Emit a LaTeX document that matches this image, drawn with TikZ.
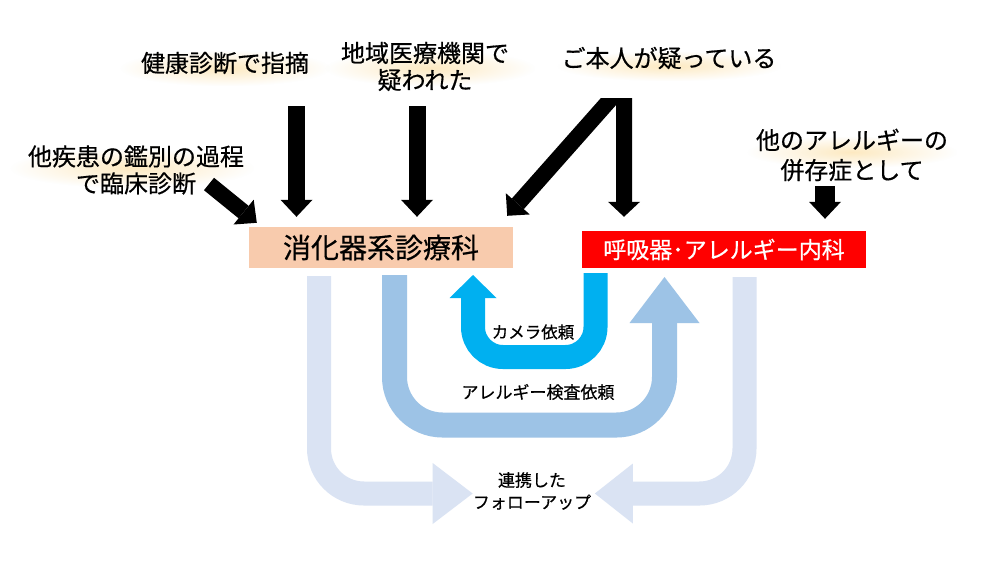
\documentclass[tikz,border=0pt]{standalone}
\usepackage{fontspec}
\setmainfont{Noto Sans CJK JP}[FakeBold=0.5]
\usetikzlibrary{arrows.meta,fadings}
\definecolor{peach}{RGB}{248,203,173}
\definecolor{glowc}{RGB}{252,222,160}
\definecolor{paleblue}{RGB}{218,227,243}
\definecolor{midblue}{RGB}{157,195,230}
\definecolor{skyblue}{RGB}{0,176,240}
\tikzfading[name=glowfade, inner color=transparent!35, outer color=transparent!100]
\begin{document}
\begin{tikzpicture}[x=1pt, y=-1pt,
  lbl/.style={align=center, inner sep=0pt, font=\fontsize{24}{27}\selectfont},
  sub/.style={align=center, inner sep=0pt, font=\fontsize{17}{22}\selectfont},
  dept/.style={inner sep=0pt},
  glow/.style={fill=glowc, path fading=glowfade},
  blk/.style={line width=17pt, -{Triangle[width=32pt,length=17pt,line width=0pt]}},
  uarr/.style={rounded corners=45pt}
] % {{{
\fill[white] (0,0) rectangle (1000,563);
\useasboundingbox (0,0) rectangle (1000,563);
% glow behind the texts {{{
\foreach \cx/\cy/\rx/\ry in {225/68/105/18, 430/68/105/18, 669/66/112/15, 132/168/122/20, 852/152/105/16} {
  \fill[glow] (\cx-\rx,\cy-\ry) rectangle (\cx+\rx,\cy+\ry);
}
% }}}
% Texts {{{
\node[lbl] (kenshin) at (225,63) {健康診断で指摘};
\node[lbl] (chiiki) at (425,66.5) {地域医療機関で\\疑われた};
\node[lbl] (honnin) at (669,58) {ご本人が疑っている};
\node[lbl] (kanbetsu) at (136,170) {他疾患の鑑別の過程\\で臨床診断};
\node[lbl, font=\fontsize{24}{30}\selectfont] (heizon) at (852,155) {他のアレルギーの\\併存症として};
% }}}
% Departments {{{
\node[dept, fill=peach, minimum width=264, minimum height=41, font=\fontsize{28}{28}\selectfont] (gastro) at (381,247.5) {消化器系診療科};
\node[dept, fill=red, text=white, minimum width=284, minimum height=37, font=\fontsize{23}{23}\selectfont] (resp) at (724,249.5) {呼吸器･アレルギー内科};
% }}}
% Black arrows {{{
\coordinate (k1) at (296.5,106);
\coordinate (c1) at (417,106);
\coordinate (t1) at (209,184);
\coordinate (h1) at (825,186);
\coordinate (apex) at (624,84);
\draw[blk, shorten >=10pt] (k1) -- (k1 |- gastro.north);
\draw[blk, shorten >=10pt] (c1) -- (c1 |- gastro.north);
\draw[blk, line width=16pt] (t1) -- ([shift={(8,-4)}]gastro.north west);
\draw[blk, line width=20pt, shorten >=12pt] (h1) -- (h1 |- resp.north);
\begin{scope}
  \clip (0,98) rectangle (1000,563);
  \draw[blk, line width=16pt, line join=miter,
    {Triangle[width=32pt,length=16pt,line width=0pt]}-{Triangle[width=32pt,length=15pt,line width=0pt]}]
    ([shift={(-6,-11)}]gastro.north east) -- (apex) -- ([shift={(0,-14)}]apex |- resp.north);
\end{scope}
% }}}
% Requests and follow up {{{
\coordinate (p1) at (319,276);
\coordinate (p2) at (744.5,277);
\coordinate (m1) at (394.5,275);
\coordinate (m2) at (664.5,277);
\coordinate (s1) at (595.5,273);
\coordinate (s2) at (473,275);
\node[sub] (follow) at (532,491) {連携した\\フォローアップ};
\draw[uarr, paleblue, line width=24pt, -{Triangle[width=61pt,length=40pt,line width=0pt]}]
  (p1) |- ([shift={(0,2.5)}]follow.west);
\draw[uarr, paleblue, line width=24pt, -{Triangle[width=60pt,length=38pt,line width=0pt]}]
  (p2) |- ([shift={(3.5,2.5)}]follow.east);
\draw[uarr, midblue, line width=25pt, rounded corners=48pt, -{Triangle[width=70pt,length=46pt,line width=0pt]}]
  (m1) |- (m2 |- 0,425) -- (m2);
\draw[uarr, skyblue, line width=24pt, rounded corners=30pt, -{Triangle[width=47pt,length=23pt,line width=0pt]}]
  (s1) |- (s2 |- 0,357) -- (s2);
\node[sub, font=\fontsize{16.5}{20}\selectfont] (camera) at (533,332) {カメラ依頼};
\node[sub] (kensa) at (538,392) {アレルギー検査依頼};
% }}}
\end{tikzpicture} % }}}
\end{document}
